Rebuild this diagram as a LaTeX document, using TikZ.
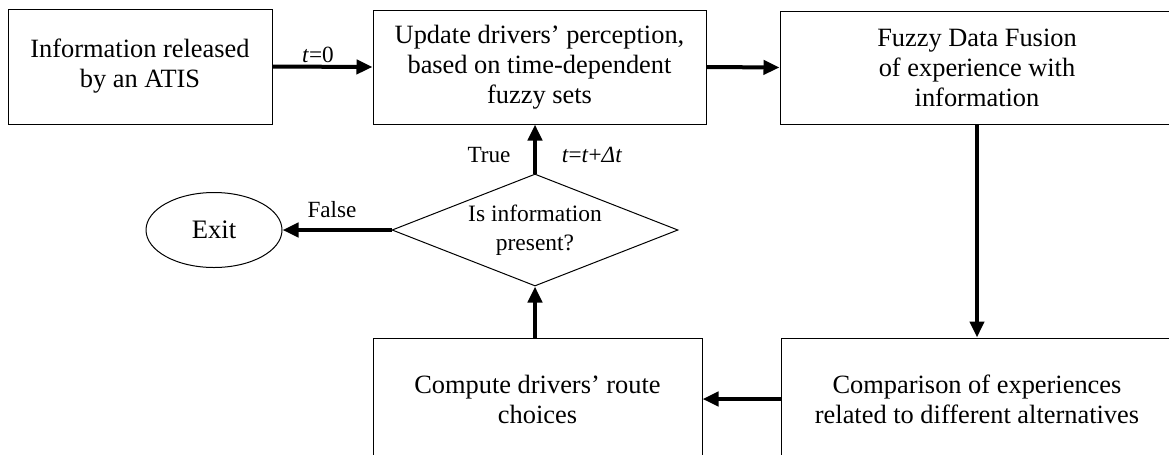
\documentclass[tikz,border=0pt]{standalone}
\usepackage{fontspec}
\setmainfont{Liberation Serif}
\usetikzlibrary{arrows.meta,shapes.geometric}

\tikzset{every picture/.style={line width=0.75pt}}
\tikzset{
  procbox/.style={draw, rectangle, inner sep=0pt, align=center, font=\fontsize{19.8}{22.5}\selectfont},
  decbox/.style={draw, diamond, aspect=2.55, inner sep=0pt, align=center, font=\fontsize{17.6}{21.5}\selectfont},
  endbox/.style={draw, ellipse, inner sep=0pt, font=\fontsize{20}{24}\selectfont},
  lbl/.style={inner sep=0.75pt, font=\fontsize{17.4}{20}\selectfont},
  flow/.style={line width=3pt, -{Triangle[length=12pt,width=10.5pt]}}
}

\begin{document}
\begin{tikzpicture}[x=0.75pt,y=0.75pt,yscale=-1,xscale=1]
	%set diagram: 1169 x 454, boxes cut at the right and bottom edges
	\useasboundingbox (0,0) rectangle (1169,454);
	\clip (0,0) rectangle (1169,454);
	
	%Shapes: process boxes
	\node [procbox, minimum width=198pt, minimum height=86.25pt] (info) at (140,66.5) {Information released\\by an ATIS};
	\node [procbox, minimum width=249.75pt, minimum height=85.5pt] (update) at (539.5,67) {Update drivers’ perception,\\based on time-dependent\\fuzzy sets};
	\node [procbox, minimum width=295.5pt, minimum height=84.75pt] (fusion) at (977,67.5) {Fuzzy Data Fusion\\of experience with\\information};
	\node [procbox, minimum width=294pt, minimum height=91.5pt] (compare) at (977,399) {Comparison of experiences\\related to different alternatives};
	\node [procbox, minimum width=246.75pt, minimum height=91.5pt] (route) at (537.5,399) {Compute drivers’ route\\choices};
	%Shape: decision
	\node [decbox, minimum width=214.5pt, minimum height=84pt] (present) at (535,230) {Is information\\present?};
	%Shape: end
	\node [endbox, minimum width=102pt, minimum height=56.25pt] (exit) at (214,230) {Exit};
	
	%Connectors
	\draw [flow] (info.east) -- (update.west);
	\draw [flow] (update.east) -- (fusion.west);
	\draw [flow] (fusion.south) -- (compare.north);
	\draw [flow] (compare.west) -- (route.east);
	\draw [flow] (route.north -| present.south) -- (present.south);
	\draw [flow] (present.north) -- (present.north |- update.south);
	\draw [flow] (present.west) -- (exit.east);
	
	%Labels
	\node [lbl] (tzero) at (318,55) {\textit{t}=0};
	\node [lbl] (true) at (489,155) {True};
	\node [lbl] (tstep) at (592,155) {\textit{t}=\textit{t}+\textit{Δt}};
	\node [lbl] (false) at (332,210) {False};
	
\end{tikzpicture}
\end{document}
